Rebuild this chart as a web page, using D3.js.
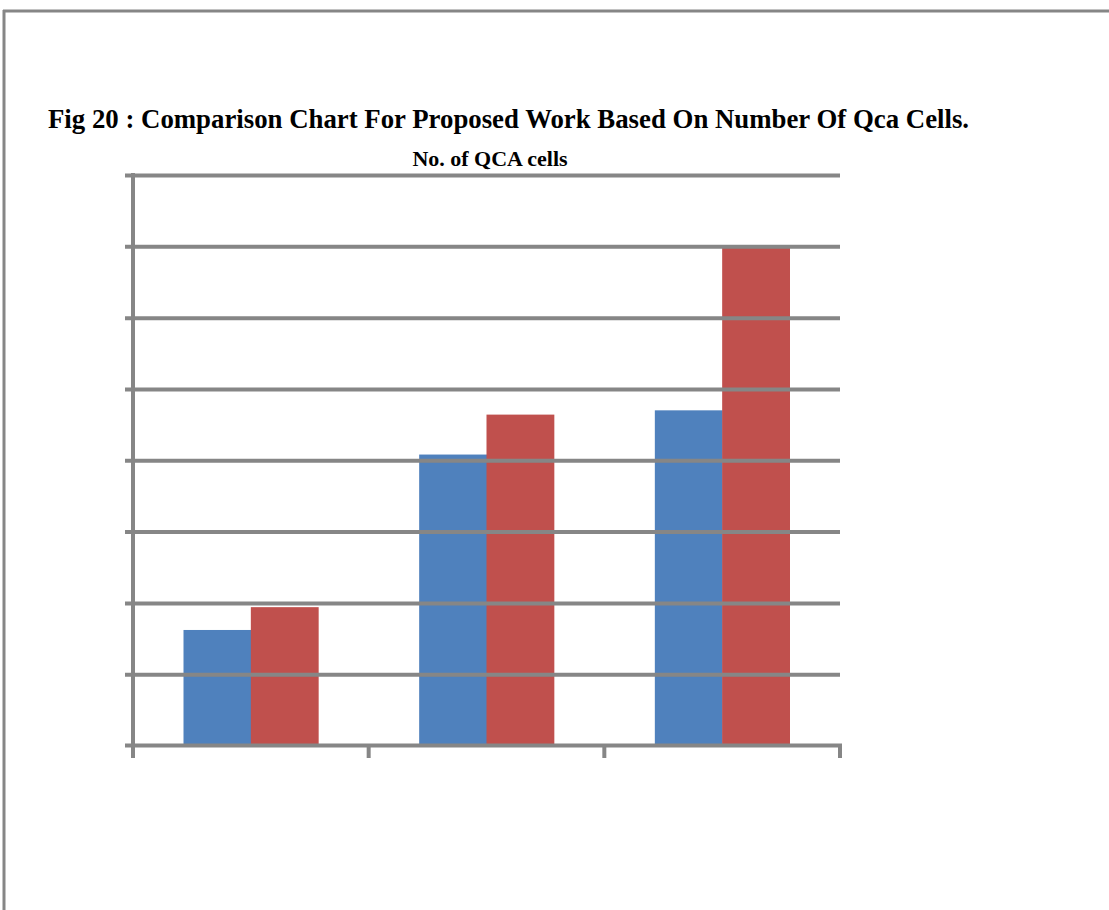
<!DOCTYPE html>
<html>
<head>
<meta charset="utf-8">
<script src="https://cdnjs.cloudflare.com/ajax/libs/d3/7.8.5/d3.min.js"></script>
<style>
  html, body { margin: 0; padding: 0; background: #fff; }
  svg { display: block; }
</style>
</head>
<body>
<svg id="chart" width="1109" height="910"></svg>
<script>
const categories = ["A", "B", "C"];
const seriesNames = ["Series1", "Series2"];
const series1 = [81, 204, 235];
const series2 = [97, 232, 350];
const yTicks = [0, 50, 100, 150, 200, 250, 300, 350, 400];

(function () {
const svg = d3.select("#chart");
const gray = "#868686";

// page frame
svg.append("line").attr("x1", 3).attr("x2", 1109).attr("y1", 11).attr("y2", 11)
  .attr("stroke", gray).attr("stroke-width", 3);
svg.append("line").attr("x1", 4).attr("x2", 4).attr("y1", 10).attr("y2", 910)
  .attr("stroke", gray).attr("stroke-width", 3);

// titles
svg.append("text").attr("x", 48).attr("y", 128)
  .attr("font-family", "Liberation Serif, Times New Roman, serif")
  .attr("font-weight", "bold").attr("font-size", 26.8)
  .attr("fill", "#000")
  .text("Fig 20 : Comparison Chart For Proposed Work Based On Number Of Qca Cells.");

const pLeft = 133, pRight = 840, pTop = 175, pBottom = 745.5;

svg.append("text").attr("x", 490).attr("y", 166)
  .attr("text-anchor", "middle")
  .attr("font-family", "Liberation Serif, Times New Roman, serif")
  .attr("font-weight", "bold").attr("font-size", 22)
  .attr("fill", "#000")
  .text("No. of QCA cells");

const x = d3.scaleBand().domain(categories).range([pLeft, pRight]).padding(0);
const xs = d3.scaleBand().domain(seriesNames).range([0, x.bandwidth()]).paddingInner(0).paddingOuter(0.75);
const y = d3.scaleLinear().domain([0, 400]).range([pBottom, pTop]);

const data = categories.map((c, i) => ({ cat: c, vals: [series1[i], series2[i]] }));
const colors = ["#4F81BD", "#C0504D"];

// bars
const groups = svg.append("g").selectAll("g").data(data).join("g")
  .attr("transform", d => `translate(${x(d.cat)},0)`);
groups.selectAll("rect").data(d => d.vals.map((v, j) => ({ v, s: seriesNames[j], j })))
  .join("rect")
  .attr("x", d => xs(d.s))
  .attr("width", xs.bandwidth() + 0.5)
  .attr("y", d => y(d.v))
  .attr("height", d => y(0) - y(d.v))
  .attr("fill", d => colors[d.j]);

// y axis with gridlines
const yAxis = svg.append("g").attr("transform", `translate(${pLeft},0)`)
  .call(d3.axisLeft(y).tickValues(yTicks).tickSize(-(pRight - pLeft)).tickFormat(""));
yAxis.select(".domain").remove();
yAxis.selectAll(".tick line").attr("x1", -8).attr("stroke", gray).attr("stroke-width", 4);
yAxis.selectAll(".tick").filter(d => d === 0).remove();

// vertical axis line
svg.append("line").attr("x1", pLeft).attr("x2", pLeft).attr("y1", pTop - 2).attr("y2", pBottom + 12.5)
  .attr("stroke", gray).attr("stroke-width", 4);

// x axis
const xAxis = svg.append("g").attr("transform", `translate(0,${pBottom})`)
  .call(d3.axisBottom(x).tickValues([]).tickSizeOuter(0));
xAxis.select(".domain").remove();
svg.append("line").attr("x1", pLeft - 8).attr("x2", pRight + 2).attr("y1", pBottom).attr("y2", pBottom)
  .attr("stroke", gray).attr("stroke-width", 4);
const boundaries = categories.map(c => x(c) + x.bandwidth());
xAxis.selectAll("line.bound").data(boundaries).join("line").attr("class", "bound")
  .attr("x1", d => d).attr("x2", d => d).attr("y1", 0).attr("y2", 12.5)
  .attr("stroke", gray).attr("stroke-width", 4);
})();
</script>
</body>
</html>
